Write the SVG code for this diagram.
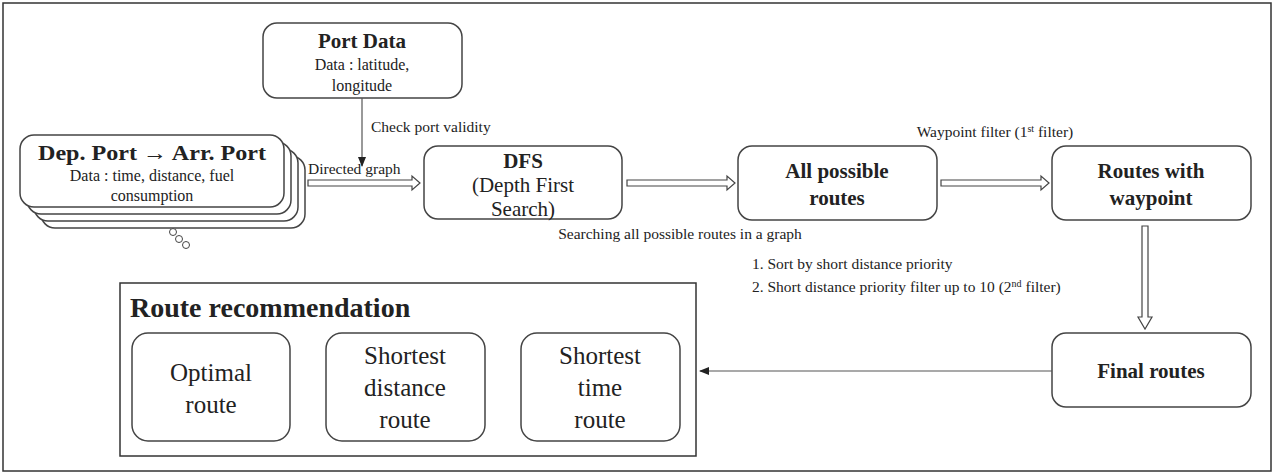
<svg xmlns="http://www.w3.org/2000/svg" width="1275" height="475" viewBox="0 0 1275 475">
<style>
text{font-family:"Liberation Serif",serif;fill:#222;text-anchor:middle}
.n{fill:#fff;stroke:#444;stroke-width:1.5}
.b{font-weight:bold}
.l{text-anchor:start;font-size:15.5px}
.h{fill:#fff;stroke:#444;stroke-width:1.2}
</style>
<defs><marker id="a" markerWidth="10" markerHeight="10" refX="9" refY="5" orient="auto" markerUnits="userSpaceOnUse"><path d="M0,1L10,5L0,9z" fill="#222"/></marker></defs>
<rect x="3" y="3" width="1268" height="468" fill="#fff" stroke="#333" stroke-width="1.5"/>
<g id="portdata"><rect class="n" x="263" y="23" width="199" height="75" rx="14"/>
<text class="b" x="362" y="48" font-size="21">Port Data</text>
<text x="362" y="70" font-size="16">Data : latitude,</text><text x="362" y="91" font-size="16">longitude</text></g>
<g id="depport">
<rect class="n" x="41" y="156" width="264" height="72" rx="14"/>
<rect class="n" x="34" y="149" width="264" height="72" rx="14"/>
<rect class="n" x="27" y="142" width="264" height="72" rx="14"/>
<rect class="n" x="20" y="135" width="264" height="72" rx="14"/>
<text class="b" x="152" y="160" font-size="21" textLength="228" lengthAdjust="spacingAndGlyphs">Dep. Port → Arr. Port</text>
<text x="152" y="181" font-size="16">Data : time, distance, fuel</text><text x="152" y="201" font-size="16">consumption</text>
<g fill="#fff" stroke="#444"><circle cx="173" cy="232" r="3.5"/><circle cx="179" cy="239" r="3.5"/><circle cx="186" cy="245" r="3.5"/></g></g>
<g id="dfs"><rect class="n" x="424" y="146" width="198" height="73" rx="14"/>
<text class="b" x="523" y="168" font-size="21">DFS</text>
<text x="523" y="192" font-size="21">(Depth First</text><text x="523" y="216" font-size="21">Search)</text></g>
<g id="allroutes"><rect class="n" x="738" y="146" width="199" height="74" rx="14"/>
<text class="b" x="837" y="178" font-size="21">All possible</text><text class="b" x="837" y="205" font-size="21">routes</text></g>
<g id="waypoint"><rect class="n" x="1052" y="146" width="199" height="74" rx="14"/>
<text class="b" x="1151" y="178" font-size="21">Routes with</text><text class="b" x="1151" y="205" font-size="21">waypoint</text></g>
<g id="final"><rect class="n" x="1052" y="333" width="199" height="74" rx="14"/>
<text class="b" x="1151" y="378" font-size="21">Final routes</text></g>
<g id="recommendation"><rect x="120" y="283" width="576" height="173" fill="#fff" stroke="#333" stroke-width="1.5"/>
<text class="b" x="130" y="317" font-size="28" style="text-anchor:start">Route recommendation</text>
<rect class="n" x="132" y="333" width="158" height="108" rx="16"/>
<text x="211" y="381" font-size="25">Optimal</text><text x="211" y="413" font-size="25">route</text>
<rect class="n" x="326" y="333" width="159" height="108" rx="16"/>
<text x="405" y="364" font-size="25">Shortest</text><text x="405" y="396" font-size="25">distance</text><text x="405" y="428" font-size="25">route</text>
<rect class="n" x="521" y="333" width="159" height="108" rx="16"/>
<text x="600" y="364" font-size="25">Shortest</text><text x="600" y="396" font-size="25">time</text><text x="600" y="428" font-size="25">route</text></g>
<g id="connectors">
<line x1="362" y1="98" x2="362" y2="166" stroke="#555" stroke-width="1.2" marker-end="url(#a)"/>
<path class="h" d="M308,180H412V176L420,183L412,190V186H308z"/>
<path class="h" d="M627,180H727V176L735,183L727,190V186H627z"/>
<path class="h" d="M941,180H1041V176L1049,183L1041,190V186H941z"/>
<path class="h" d="M1142,226V317H1138L1145,329L1152,317H1148V226z"/>
<line x1="1052" y1="371" x2="700" y2="371" stroke="#555" stroke-width="1.2" marker-end="url(#a)"/>
<text class="l" x="371" y="132">Check port validity</text>
<text class="l" x="308" y="174">Directed graph</text>
<text x="680" y="239" font-size="15.5">Searching all possible routes in a graph</text>
<text x="995" y="137" font-size="15.5">Waypoint filter (1<tspan font-size="10" dy="-5">st</tspan><tspan dy="5"> filter)</tspan></text>
<text class="l" x="752" y="269">1. Sort by short distance priority</text>
<text class="l" x="752" y="292">2. Short distance priority filter up to 10 (2<tspan font-size="10" dy="-5">nd</tspan><tspan dy="5"> filter)</tspan></text>
</g>
</svg>
